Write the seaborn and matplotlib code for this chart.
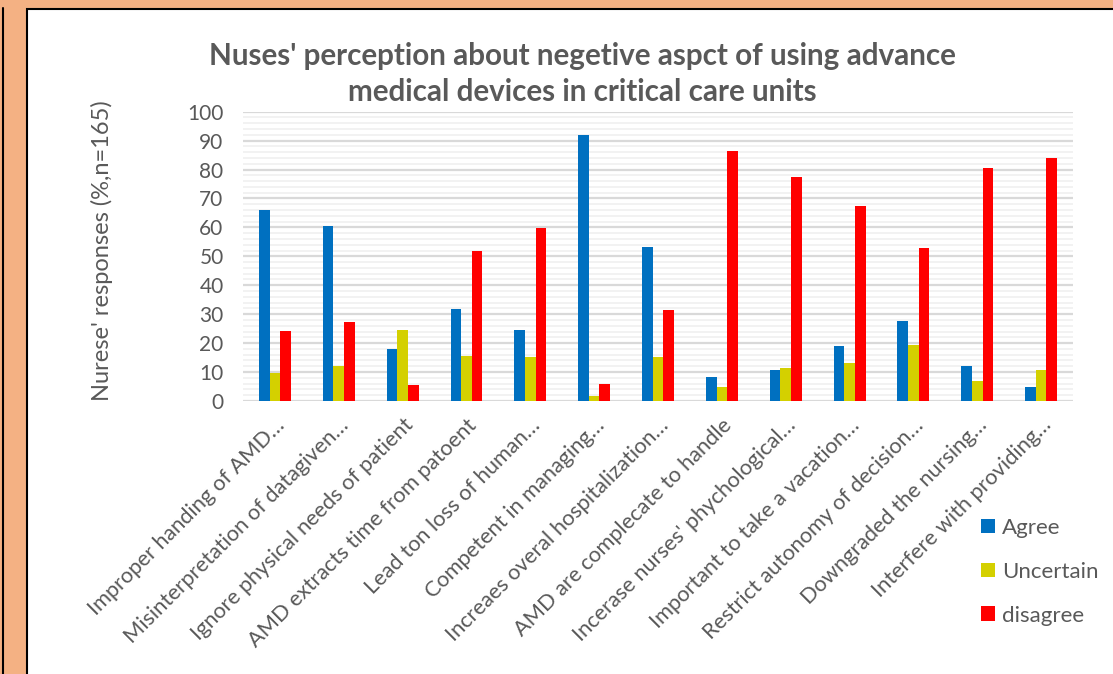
import numpy as np
import pandas as pd
import seaborn as sns
import matplotlib.pyplot as plt
from matplotlib.patches import Rectangle
from matplotlib.lines import Line2D
from matplotlib.ticker import MultipleLocator

# values (% of nurses, n=165)
items = [
    "Improper handing of AMD\u2026",
    "Misinterpretation of datagiven\u2026",
    "Ignore physical needs of patient",
    "AMD extracts time from patoent",
    "Lead ton loss of human\u2026",
    "Competent in managing\u2026",
    "Increaes overal hospitalization\u2026",
    "AMD are complecate to handle",
    "Incerase nurses' phychological\u2026",
    "Important to take a vacation\u2026",
    "Restrict autonomy of decision\u2026",
    "Downgraded the nursing\u2026",
    "Interfere with providing\u2026",
]
agree = [66.0, 60.4, 18.1, 31.9, 24.5, 91.9, 53.1, 8.3, 10.7, 19.1, 27.6, 12.0, 4.7]
uncertain = [9.6, 12.1, 24.5, 15.7, 15.1, 1.8, 15.1, 4.7, 11.4, 13.1, 19.2, 7.0, 10.7]
disagree = [24.2, 27.2, 5.5, 51.8, 59.9, 5.8, 31.3, 86.4, 77.3, 67.3, 52.8, 80.4, 84.1]
responses = ["Agree", "Uncertain", "disagree"]
colors = ["#0070C0", "#D4D000", "#FF0000"]

df = pd.DataFrame({"item": items, "Agree": agree, "Uncertain": uncertain, "disagree": disagree})
long_df = df.melt(id_vars="item", var_name="response", value_name="pct")

sns.set_style("white")
plt.rcParams["font.family"] = ["Lato", "DejaVu Sans"]
grey = "#595959"

W, H = 1113, 674
fig = plt.figure(figsize=(W / 100, H / 100), dpi=100, facecolor="#F4B183")
# white chart panel with black border, like the reference frame
fig.patches.append(Rectangle((27 / W, -0.01), 1.0, (H - 9) / H + 0.01, transform=fig.transFigure,
                             facecolor="white", edgecolor="black", linewidth=1.5, zorder=-5))
fig.lines.append(Line2D([3 / W, 3 / W], [0, (H - 8) / H], transform=fig.transFigure,
                        color="black", linewidth=1.5, zorder=-5))

ax = fig.add_axes([243 / W, (H - 401) / H, 830 / W, 289.3 / H])
ax.set_zorder(2)
ax.patch.set_alpha(0)
sns.barplot(data=long_df, x="item", y="pct", hue="response", hue_order=responses,
            palette=colors, saturation=1, width=0.5, gap=0, linewidth=0, ax=ax, legend=True)

ax.set_ylim(0, 100)
ax.set_xlim(-0.5, len(items) - 0.5)
ax.yaxis.set_major_locator(MultipleLocator(10))
ax.yaxis.set_minor_locator(MultipleLocator(2))
ax.grid(which="minor", axis="y", color="#F0F0F0", linewidth=1.2)
ax.grid(which="major", axis="y", color="#D9D9D9", linewidth=1.6)
ax.set_axisbelow(True)
for s in ax.spines.values():
    s.set_visible(False)
ax.tick_params(axis="both", which="both", length=0, colors=grey, labelsize=15)
ax.set_xlabel("")
ax.set_ylabel("")

ax.set_xticks(range(len(items)))
ax.set_xticklabels(items, rotation=45, ha="right", va="top", rotation_mode="anchor")
for lbl in ax.get_xticklabels():
    lbl.set_color(grey)
    lbl.set_fontsize(15.7)
ax.tick_params(axis="x", pad=10)
ax.tick_params(axis="y", pad=14)

fig.text(102 / W, 1 - 251 / H, "Nurese' responses (%,n=165)", rotation=90,
         ha="center", va="center", fontsize=17, color=grey)
fig.text(582 / W, 1 - 74 / H,
         "Nuses' perception about negetive aspct of using advance\nmedical devices in critical care units",
         ha="center", va="center", fontsize=21.3, fontweight="bold", color=grey, linespacing=1.35)

handles, labels = ax.get_legend_handles_labels()
ax.legend(handles, labels, loc="upper left", bbox_to_anchor=(961 / W, 1 - 498 / H),
          bbox_transform=fig.transFigure, frameon=False, fontsize=16, labelcolor=grey,
          handlelength=0.63, handleheight=0.63, handletextpad=0.3, labelspacing=1.07)

fig.savefig("out.png", dpi=100, facecolor=fig.get_facecolor())
